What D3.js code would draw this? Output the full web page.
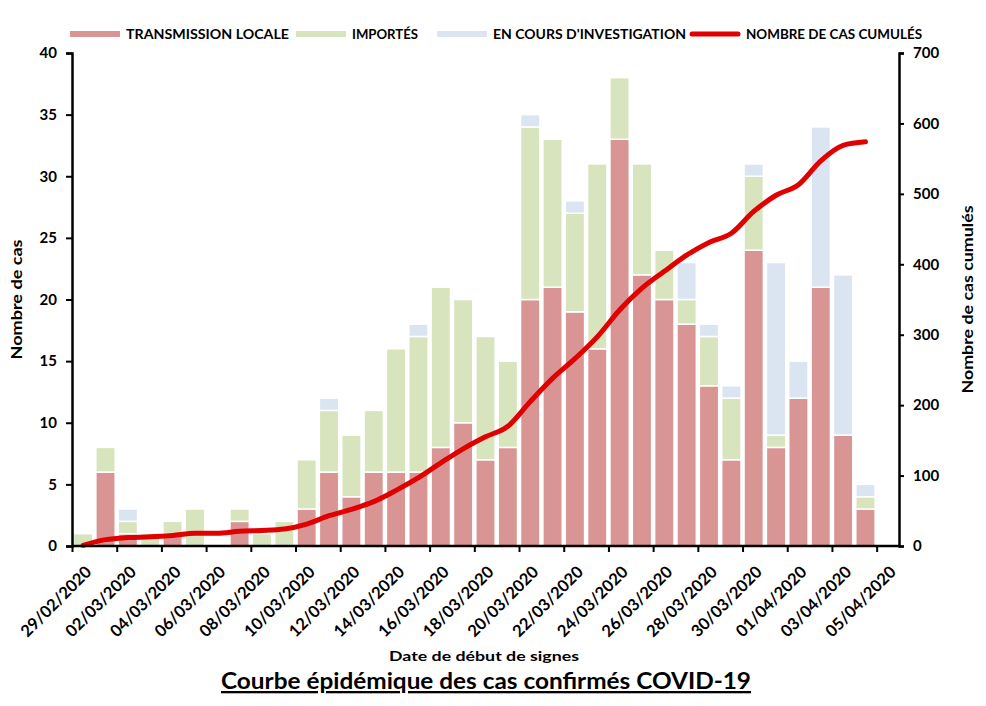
<!DOCTYPE html>
<html>
<head>
<meta charset="utf-8">
<script src="https://cdn.jsdelivr.net/npm/d3@7"></script>
<style>
  body { margin: 0; background: #fff; }
  text { font-family: Lato, "Open Sans", sans-serif; fill: #000; }
</style>
</head>
<body>
<div id="chart"></div>
<script>
// dates (one bar per day), tick labels every 2 days
var dates = ["29/02/2020", "01/03/2020", "02/03/2020", "03/03/2020", "04/03/2020", "05/03/2020",
    "06/03/2020", "07/03/2020", "08/03/2020", "09/03/2020", "10/03/2020", "11/03/2020",
    "12/03/2020", "13/03/2020", "14/03/2020", "15/03/2020", "16/03/2020", "17/03/2020",
    "18/03/2020", "19/03/2020", "20/03/2020", "21/03/2020", "22/03/2020", "23/03/2020",
    "24/03/2020", "25/03/2020", "26/03/2020", "27/03/2020", "28/03/2020", "29/03/2020",
    "30/03/2020", "31/03/2020", "01/04/2020", "02/04/2020", "03/04/2020", "04/04/2020",
    "05/04/2020"];

var tickLabels = ["29/02/2020", "02/03/2020", "04/03/2020", "06/03/2020", "08/03/2020",
    "10/03/2020", "12/03/2020", "14/03/2020", "16/03/2020", "18/03/2020", "20/03/2020",
    "22/03/2020", "24/03/2020", "26/03/2020", "28/03/2020", "30/03/2020", "01/04/2020",
    "03/04/2020", "05/04/2020"];

var locale = [0, 6, 1, 0, 1, 0, 0, 2, 0, 0, 3, 6, 4, 6, 6, 6, 8, 10, 7, 8, 20, 21, 19, 16, 33,
    22, 20, 18, 13, 7, 24, 8, 12, 21, 9, 3, 0];
var importes = [1, 2, 1, 1, 1, 3, 0, 1, 1, 2, 4, 5, 5, 5, 10, 11, 13, 10, 10, 7, 14, 12, 8, 15, 5,
    9, 4, 2, 4, 5, 6, 1, 0, 0, 0, 1, 0];
var investigation = [0, 0, 1, 0, 0, 0, 0, 0, 0, 0, 0, 1, 0, 0, 0, 1, 0, 0, 0, 0, 1, 0, 1, 0, 0,
    0, 0, 3, 1, 1, 1, 14, 3, 13, 13, 1, 0];

// cumulated cases (line), up to 04/04
var cumules = [1, 9, 12, 13, 15, 18, 18, 21, 22, 24, 31, 43, 52, 63, 79, 97, 118, 138, 155, 170,
    205, 238, 266, 297, 335, 366, 390, 413, 431, 444, 475, 498, 513, 547, 569, 574];

var series = ["TRANSMISSION LOCALE", "IMPORTÉS", "EN COURS D'INVESTIGATION"];
var colors = ["#d99594", "#d7e4bd", "#dbe5f1"];

function drawChart() {
    var width = 986, height = 706;
    // plot area
    var x0 = 72, x1 = 899, yTop = 53, yBottom = 546;

    var svg = d3.select("#chart").append("svg")
        .attr("width", width)
        .attr("height", height);

    var x = d3.scaleBand().domain(dates).range([x0, x1]);
    var xTicks = d3.scalePoint().domain(tickLabels).range([x0, x0 + x.step() * 36]);
    var y = d3.scaleLinear().domain([0, 40]).range([yBottom, yTop]);
    var y2 = d3.scaleLinear().domain([0, 700]).range([yBottom, yTop]);

    // stacked bars
    var rows = dates.map(function(d, i) {
        return { date: d, a: locale[i], b: importes[i], c: investigation[i] };
    });
    var stack = d3.stack().keys(["a", "b", "c"])(rows);

    svg.append("g").selectAll("g")
        .data(stack)
        .enter().append("g")
        .attr("fill", function(d, i) { return colors[i]; })
        .selectAll("rect")
        .data(function(d) { return d.filter(function(p) { return p[1] > p[0]; }); })
        .enter().append("rect")
        .attr("x", function(d) { return x(d.data.date) + 1.5; })
        .attr("width", x.bandwidth() - 3)
        .attr("y", function(d) { return y(d[1]); })
        .attr("height", function(d) { return y(d[0]) - y(d[1]); })
        .attr("stroke", "#fff")
        .attr("stroke-width", 1.5);

    // cumulated line
    var line = d3.line()
        .x(function(d, i) { return x(dates[i]) + x.bandwidth() / 2; })
        .y(function(d) { return y2(d); })
        .curve(d3.curveMonotoneX);

    svg.append("path")
        .datum(cumules)
        .attr("d", line)
        .attr("fill", "none")
        .attr("stroke", "#e00000")
        .attr("stroke-width", 5)
        .attr("stroke-linecap", "round")
        .attr("stroke-linejoin", "round");

    // axes
    var gx = svg.append("g")
        .attr("transform", "translate(0," + yBottom + ")")
        .call(d3.axisBottom(xTicks).tickSize(6).tickSizeOuter(0));
    gx.select(".domain").remove();
    gx.append("line")
        .attr("x1", x0).attr("x2", x1)
        .attr("stroke", "#000").attr("stroke-width", 2.5);
    gx.selectAll(".tick line").attr("stroke-width", 2);
    gx.selectAll(".tick text")
        .attr("font-size", 16.5)
        .attr("font-weight", "bold")
        .attr("text-anchor", "end")
        .attr("y", 0)
        .attr("dy", 0)
        .attr("transform", "translate(20,27) rotate(-45)");

    var gy = svg.append("g")
        .attr("transform", "translate(" + x0 + ",0)")
        .call(d3.axisLeft(y).ticks(8).tickSize(6).tickPadding(9).tickSizeOuter(6));
    gy.select(".domain").attr("stroke-width", 2.5);
    gy.selectAll(".tick line").attr("stroke-width", 2);
    gy.selectAll(".tick text").attr("font-size", 15).attr("font-weight", "bold");

    var gy2 = svg.append("g")
        .attr("transform", "translate(" + x1 + ",0)")
        .call(d3.axisRight(y2).ticks(7).tickSize(5).tickPadding(9).tickSizeOuter(5));
    gy2.select(".domain").attr("stroke-width", 2.5);
    gy2.selectAll(".tick line").attr("stroke-width", 2);
    gy2.selectAll(".tick text").attr("font-size", 15).attr("font-weight", "bold");

    // axis titles
    svg.append("text")
        .attr("transform", "translate(22," + ((yTop + yBottom) / 2) + ") rotate(-90)")
        .attr("text-anchor", "middle")
        .attr("font-size", 16)
        .attr("font-weight", "bold")
        .attr("textLength", 120)
        .attr("lengthAdjust", "spacingAndGlyphs")
        .text("Nombre de cas");

    svg.append("text")
        .attr("transform", "translate(973," + ((yTop + yBottom) / 2) + ") rotate(-90)")
        .attr("text-anchor", "middle")
        .attr("font-size", 16)
        .attr("font-weight", "bold")
        .attr("textLength", 188)
        .attr("lengthAdjust", "spacingAndGlyphs")
        .text("Nombre de cas cumulés");

    svg.append("text")
        .attr("x", 484)
        .attr("y", 661)
        .attr("text-anchor", "middle")
        .attr("font-size", 13.5)
        .attr("font-weight", "bold")
        .attr("textLength", 190)
        .attr("lengthAdjust", "spacingAndGlyphs")
        .text("Date de début de signes");

    svg.append("text")
        .attr("x", 486)
        .attr("y", 689)
        .attr("text-anchor", "middle")
        .attr("font-size", 23)
        .attr("font-weight", "bold")
        .attr("text-decoration", "underline")
        .attr("textLength", 530)
        .attr("lengthAdjust", "spacingAndGlyphs")
        .text("Courbe épidémique  des cas confirmés COVID-19");

    // legend
    var legendX = [70, 296, 437, 690];
    var legendW = [163, 66, 193, 176];
    var legend = svg.append("g");
    series.concat(["NOMBRE DE CAS CUMULÉS"]).forEach(function(s, i) {
        var g = legend.append("g").attr("transform", "translate(" + legendX[i] + ",34)");
        if (i < 3) {
            g.append("line").attr("x1", 0).attr("x2", 50)
                .attr("stroke", colors[i]).attr("stroke-width", 6);
        } else {
            g.append("line").attr("x1", 2).attr("x2", 48)
                .attr("stroke", "#e00000").attr("stroke-width", 5)
                .attr("stroke-linecap", "round");
        }
        g.append("text")
            .attr("x", 56)
            .attr("y", 4.5)
            .attr("font-size", 12.5)
            .attr("font-weight", "bold")
            .attr("textLength", legendW[i])
            .attr("lengthAdjust", "spacingAndGlyphs")
            .text(s);
    });
}

drawChart();
</script>
</body>
</html>
